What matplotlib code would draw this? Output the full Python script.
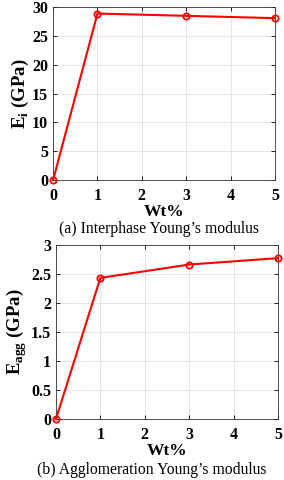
import matplotlib
matplotlib.use("Agg")
import matplotlib.pyplot as plt

wt = [0, 1, 3, 5]
e_interphase = [0, 28.9, 28.5, 28.1]
e_agg = [0, 2.43, 2.66, 2.77]

plt.rcParams["font.family"] = ["Liberation Serif", "DejaVu Serif"]
plt.rcParams["mathtext.fontset"] = "custom"
plt.rcParams["mathtext.bf"] = "Liberation Serif:bold"
plt.rcParams["mathtext.rm"] = "Liberation Serif"

fig = plt.figure(figsize=(2.84, 4.8), dpi=100)
ax1 = fig.add_axes([0.187, 0.625, 0.781, 0.36])
ax2 = fig.add_axes([0.197, 0.127, 0.782, 0.363])


def style(ax, y, yticks, ylabel, caption, cap_x, cap_y):
    ax.plot(wt, y, "-o", color="red", lw=1.5, ms=4.5, mfc="none", mew=1.3, clip_on=False, zorder=3)
    ax.set_xlim(0, 5)
    ax.set_xticks(range(6))
    ax.set_ylim(yticks[0], yticks[-1])
    ax.set_yticks(yticks)
    ax.set_yticklabels([f"{t:g}" for t in yticks])
    ax.grid(True, color="#e0e0e0", lw=0.6)
    ax.set_axisbelow(True)
    ax.tick_params(direction="in", length=3, width=0.6, labelsize=11.5, top=True, right=True)
    ax.tick_params(axis="x", pad=5.5)
    ax.tick_params(axis="y", pad=3.5)
    for lab in ax.get_xticklabels() + ax.get_yticklabels():
        lab.set_fontweight("bold")
    for s in ax.spines.values():
        s.set_linewidth(0.6)
        s.set_color("#333333")
    ax.set_xlabel("Wt%", fontsize=12.5, fontweight="bold", labelpad=0.5)
    ax.set_ylabel(ylabel, fontsize=13.5, fontweight="bold", labelpad=1)
    fig.text(cap_x, cap_y, caption, ha="center", va="center", fontsize=11.3)


style(ax1, e_interphase, [0, 5, 10, 15, 20, 25, 30], r"E$_\mathbf{i}$ (GPa)",
      "(a) Interphase Young\u2019s modulus", 0.56, 1 - 229 / 480)
style(ax2, e_agg, [0, 0.5, 1, 1.5, 2, 2.5, 3], r"E$_\mathbf{agg}$ (GPa)",
      "(b) Agglomeration Young\u2019s modulus", 0.533, 1 - 470 / 480)

fig.savefig("out.png", dpi=100)
